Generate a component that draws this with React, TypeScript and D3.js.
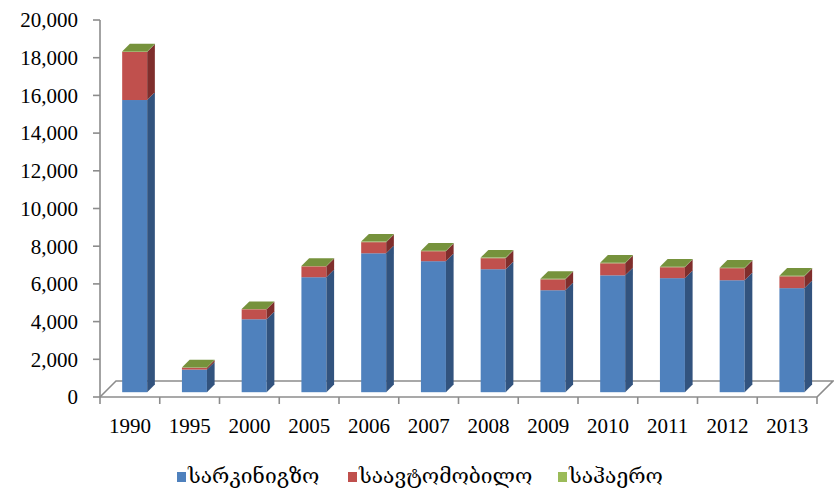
import React from 'react';
import { scaleLinear, scaleBand, stack, range } from 'd3';

const years = ['1990', '1995', '2000', '2005', '2006', '2007', '2008', '2009', '2010', '2011', '2012', '2013'];
const railway = [15500, 1200, 3870, 6100, 7370, 6950, 6525, 5410, 6200, 6050, 5940, 5520];
const road = [2550, 100, 530, 580, 590, 530, 585, 580, 640, 580, 640, 630];
const air = [30, 10, 10, 20, 30, 30, 30, 25, 25, 25, 25, 25];
const seriesNames = ['სარკინიგზო', 'საავტომობილო', 'საჰაერო'];
const yTicks = range(0, 20001, 2000);

// front, side, top colours per series
const colors = [
  { front: '#4f81bd', side: '#32537e', top: '#3f6797' },
  { front: '#c0504d', side: '#7f2e2c', top: '#9a3d3a' },
  { front: '#9bbb59', side: '#67803a', top: '#76923c' },
];

const width = 834;
const height = 490;
const x0 = 100, x1 = 817;
const depthX = 16, depthY = -16;
const barFront = 0.3, barBack = 0.78;

const App: React.FC = () => {
  const yScale = scaleLinear([0, 20000], [397, 20]);
  const xScale = scaleBand(years, [x0, x1]).padding(0);
  const bw = 25;

  const rows = years.map((y, i) => ({ year: y, rail: railway[i], road: road[i], air: air[i] }));
  const stacked = stack<any>().keys(['rail', 'road', 'air'])(rows);

  const fdx = depthX * barFront, fdy = depthY * barFront;
  const bdx = depthX * barBack, bdy = depthY * barBack;
  const sdx = bdx - fdx, sdy = bdy - fdy;

  const fmt = (v: number) => v === 0 ? '0' : v.toLocaleString('en-US');

  return (
    <svg width={width} height={height} style={{ position: 'absolute', left: 0, top: 0, background: '#fff' }}
      fontFamily="'Liberation Serif', 'Times New Roman', serif">
      {/* floor */}
      <path d={`M${x0},397 L${x0 + depthX},${397 + depthY} L${x1 + depthX},${397 + depthY} L${x1},397`}
        fill="none" stroke="#8c8c8c" strokeWidth={1.6} />
      {/* y axis */}
      <line x1={x0} x2={x0} y1={yScale(20000)} y2={397} stroke="#8c8c8c" strokeWidth={1.6} />
      {yTicks.map(t => (
        <g key={t}>
          <line x1={x0 - 7} x2={x0} y1={yScale(t)} y2={yScale(t)} stroke="#8c8c8c" strokeWidth={1.6} />
          <text x={78} y={yScale(t)} dy="0.35em" textAnchor="end" fontSize={21} fill="#000">{fmt(t)}</text>
        </g>
      ))}
      {/* x axis */}
      <line x1={x0} x2={x1} y1={397} y2={397} stroke="#8c8c8c" strokeWidth={1.6} />
      {range(years.length + 1).map(i => {
        const xx = x0 + i * xScale.bandwidth();
        return <line key={i} x1={xx} x2={xx} y1={397} y2={404} stroke="#8c8c8c" strokeWidth={1.6} />;
      })}
      {years.map(y => (
        <text key={y} x={(xScale(y) ?? 0) + xScale.bandwidth() / 2} y={433} textAnchor="middle" fontSize={21} fill="#000">{y}</text>
      ))}
      {/* bars */}
      {years.map((y, i) => {
        const cx = (xScale(y) ?? 0) + xScale.bandwidth() / 2;
        const left = cx - bw / 2 + fdx;
        const right = left + bw;
        const topIdx = stacked.length - 1;
        return (
          <g key={y}>
            {stacked.map((s, k) => {
              const yb = yScale(s[i][0]) + fdy;
              const yt = yScale(s[i][1]) + fdy;
              const c = colors[k];
              return (
                <g key={k}>
                  <rect x={left} y={yt} width={bw} height={Math.max(0, yb - yt)} fill={c.front} />
                  <path d={`M${right},${yb} L${right + sdx},${yb + sdy} L${right + sdx},${yt + sdy} L${right},${yt} Z`} fill={c.side} />
                </g>
              );
            })}
            {(() => {
              const yt = yScale(stacked[topIdx][i][1]) + fdy;
              return <path d={`M${left},${yt} L${right},${yt} L${right + sdx},${yt + sdy} L${left + sdx},${yt + sdy} Z`} fill={colors[topIdx].top} />;
            })()}
          </g>
        );
      })}
      {/* legend */}
      {seriesNames.map((n, k) => {
        const lx = [177, 348, 558][k];
        return (
          <g key={n}>
            <rect x={lx} y={472} width={9} height={10} fill={colors[k].front} />
            <text x={lx + 11} y={483} fontSize={21} fontFamily="'DejaVu Serif', 'DejaVu Sans', serif" fill="#000">{n}</text>
          </g>
        );
      })}
    </svg>
  );
};

export default App;
